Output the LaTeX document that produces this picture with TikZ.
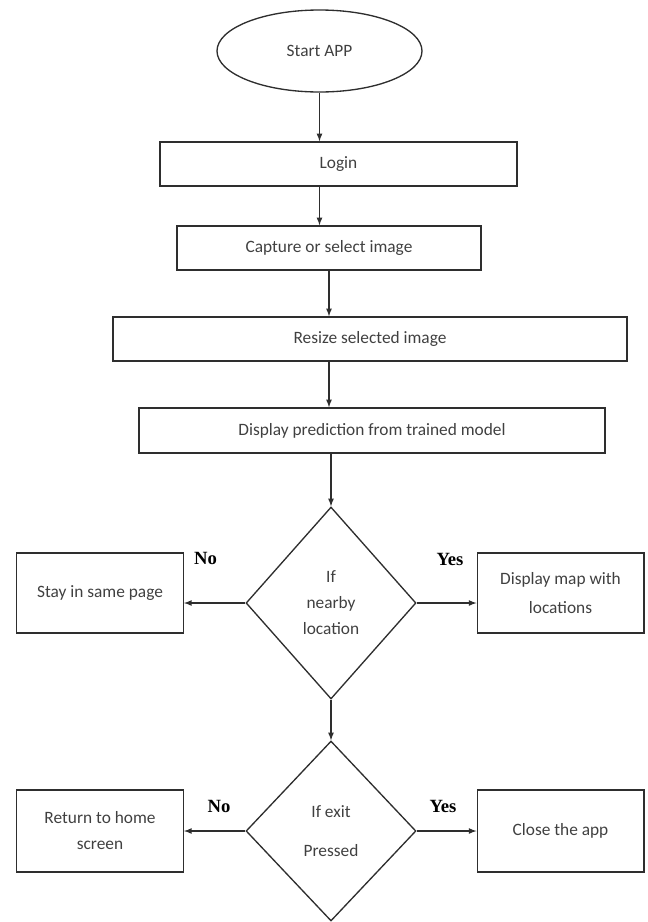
\documentclass[tikz,border=0pt]{standalone}
\usepackage{fontspec}
\setmainfont{Carlito}
\newfontfamily\answerfont{Liberation Serif}
\usetikzlibrary{shapes.geometric}

\definecolor{linecol}{HTML}{2E2E2E}
\definecolor{textcol}{HTML}{404040}

\tikzset{
  boxtext/.style={text=textcol, font=\fontsize{13}{19.5}\selectfont, align=center, inner sep=0.75pt},
  flowbox/.style={boxtext, draw=linecol, line width=1pt, rectangle},
  startoval/.style={boxtext, draw=linecol, line width=1pt, ellipse},
  askdiamond/.style={boxtext, draw=linecol, line width=1pt, diamond, inner sep=0pt},
  answer/.style={text=black, font=\answerfont\bfseries\fontsize{14}{16}\selectfont, inner sep=0.75pt},
  flowarrow/.style={draw=linecol, line width=1pt, ->, >=latex}
}

\begin{document}
\begin{tikzpicture}[x=0.75pt,y=0.75pt,yscale=-1,xscale=1]
\useasboundingbox (0,0) rectangle (648,922);

%Shape: Ellipse
\draw (319.5,51) node [startoval, minimum width=153.75pt, minimum height=61.5pt] (start) {Start APP};
%Shape: Rectangle
\draw (338.5,164) node [flowbox, minimum width=267.75pt, minimum height=33pt] (login) {Login};
%Shape: Rectangle
\draw (329,248) node [flowbox, minimum width=228pt, minimum height=33pt] (capture) {Capture or select image};
%Shape: Rectangle
\draw (370,339) node [flowbox, minimum width=385.5pt, minimum height=33pt] (resize) {Resize selected image};
%Shape: Rectangle
\draw (372,430.5) node [flowbox, minimum width=349.5pt, minimum height=33.75pt] (display) {Display prediction from trained model};

%Shape: Diamond
\draw (331,603) node [askdiamond, minimum width=127.5pt, minimum height=144pt] (nearby) {If\\nearby\\location};
%Shape: Rectangle
\draw (100,593) node [flowbox, minimum width=125pt, minimum height=60pt] (stay) {Stay in same page};
%Shape: Rectangle
\draw (560.5,593) node [flowbox, minimum width=125pt, minimum height=60pt] (showmap) {Display map with\\[2pt]locations};

%Shape: Diamond
\draw (331,831) node [askdiamond, minimum width=127.5pt, minimum height=135pt] (exit) {If exit\\[10pt]Pressed};
%Shape: Rectangle
\draw (100,831) node [flowbox, minimum width=125pt, minimum height=61.5pt] (home) {Return to home\\screen};
%Shape: Rectangle
\draw (560.5,831) node [flowbox, minimum width=125pt, minimum height=61.5pt] (closeapp) {Close the app};

% Text Node
\draw (205.5,558) node [answer] (nonear) {No};
% Text Node
\draw (450,559) node [answer] (yesnear) {Yes};
% Text Node
\draw (219,806) node [answer] (noexit) {No};
% Text Node
\draw (443,806) node [answer] (yesexit) {Yes};

%Straight Lines
\draw [flowarrow] (start.south) -- (start.south |- login.north);
%Straight Lines
\draw [flowarrow] (start.south |- login.south) -- (start.south |- capture.north);
%Straight Lines
\draw [flowarrow] (capture.south) -- (capture.south |- resize.north);
%Straight Lines
\draw [flowarrow] (capture.south |- resize.south) -- (capture.south |- display.north);
%Straight Lines
\draw [flowarrow] (nearby.north |- display.south) -- (nearby.north);
%Straight Lines
\draw [flowarrow] (nearby.west) -- (stay.east |- nearby.west);
%Straight Lines
\draw [flowarrow] (nearby.east) -- (showmap.west |- nearby.east);
%Straight Lines
\draw [flowarrow] (nearby.south) -- (exit.north);
%Straight Lines
\draw [flowarrow] (exit.west) -- (home.east |- exit.west);
%Straight Lines
\draw [flowarrow] (exit.east) -- (closeapp.west |- exit.east);

\end{tikzpicture}
\end{document}
